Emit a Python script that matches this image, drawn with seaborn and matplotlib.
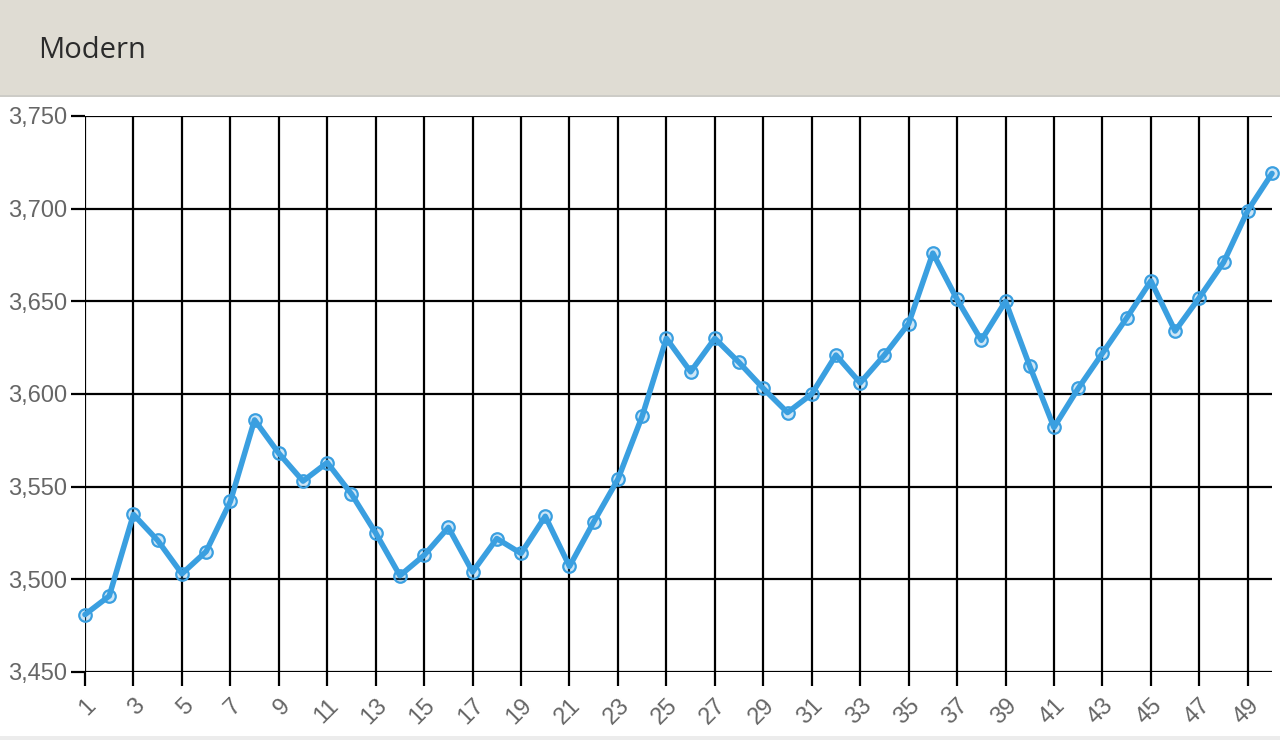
import matplotlib
matplotlib.use("Agg")
import matplotlib.pyplot as plt
import seaborn as sns
import pandas as pd
from matplotlib.patches import Rectangle
from matplotlib.lines import Line2D

title = "Modern"
x_values = list(range(1, 51))
y_values = [3481, 3491, 3535, 3521, 3503, 3515, 3542, 3586, 3568, 3553,
            3563, 3546, 3525, 3502, 3513, 3528, 3504, 3522, 3514, 3534,
            3507, 3531, 3554, 3588, 3630, 3612, 3630, 3617, 3603, 3590,
            3600, 3621, 3606, 3621, 3638, 3676, 3651, 3629, 3650, 3615,
            3582, 3603, 3622, 3641, 3661, 3634, 3652, 3671, 3699, 3719]
x_ticks = list(range(1, 50, 2))
y_ticks = [3450, 3500, 3550, 3600, 3650, 3700, 3750]

sns.set_theme(style="white")
plt.rcParams['font.family'] = ['Liberation Sans', 'DejaVu Sans']

df = pd.DataFrame({"x": x_values, "y": y_values})

fig = plt.figure(figsize=(12.8, 7.4), dpi=100)
fig.patch.set_facecolor("white")

# header band
fig.patches.append(Rectangle((0, 1 - 95 / 740), 1, 95 / 740, transform=fig.transFigure,
                             facecolor="#dfdcd3", edgecolor="none", zorder=0))
fig.lines.append(Line2D([0, 1], [1 - 96 / 740, 1 - 96 / 740], transform=fig.transFigure,
                        color="#c4c2bc", linewidth=1.2))
fig.patches.append(Rectangle((0, 0), 1, 4 / 740, transform=fig.transFigure,
                             facecolor="#ececec", edgecolor="none", zorder=0))
fig.text(38 / 1280, 1 - 50 / 740, title, fontsize=21, color="#2b2b2b",
         va="center", ha="left", family=['Open Sans', 'DejaVu Sans'])

ax = fig.add_axes([85 / 1280, 1 - 672 / 740, (1272 - 85) / 1280, (672 - 116) / 740])
color = "#3a9fe0"
sns.lineplot(data=df, x="x", y="y", ax=ax, color=color, linewidth=4,
             marker="o", markersize=9, markeredgecolor=color,
             markerfacecolor=(0.227, 0.624, 0.878, 0.25), markeredgewidth=1.6,
             clip_on=False, zorder=5)

ax.set_xlim(1, 50)
ax.set_ylim(3450, 3750)
ax.set_xticks(x_ticks)
ax.set_yticks(y_ticks)
ax.set_yticklabels([f"{v:,}" for v in y_ticks])
ax.set_xticklabels([str(v) for v in x_ticks], rotation=45, ha="right",
                   rotation_mode="anchor")
ax.set_xlabel("")
ax.set_ylabel("")
for s in ax.spines.values():
    s.set_visible(False)
ax.grid(True, color="black", linewidth=1.6)
ax.set_axisbelow(True)
ax.tick_params(axis="both", which="major", length=10, width=1.6, color="black",
               labelsize=17, labelcolor="#666666", pad=3, bottom=True, left=True)
ax.tick_params(axis="x", pad=6)

fig.savefig("out.png", dpi=100)
